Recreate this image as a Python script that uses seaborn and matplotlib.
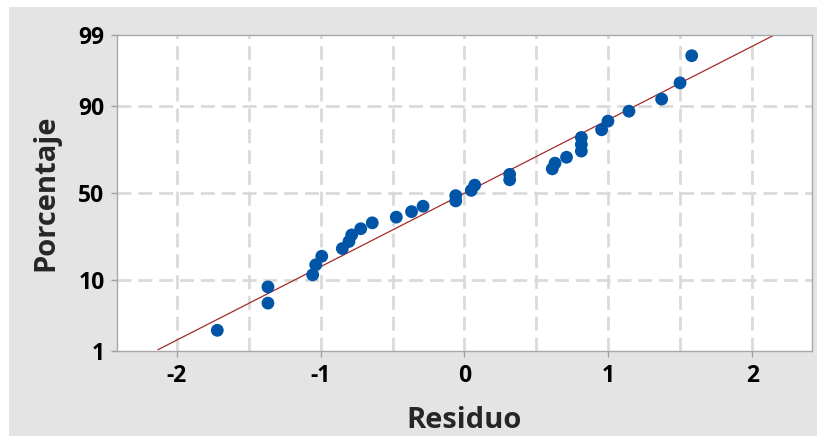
#Librerie
import numpy as np
import pandas as pd
import matplotlib.pyplot as plt
import seaborn as sns
from matplotlib.patches import Rectangle
from statistics import NormalDist

#Residui (ordinati)
residuo = [-1.718, -1.366, -1.366, -1.055, -1.034, -0.992, -0.849, -0.803,
           -0.784, -0.721, -0.641, -0.474, -0.368, -0.288, -0.061, -0.061,
           0.047, 0.071, 0.314, 0.314, 0.610, 0.629, 0.709, 0.812,
           0.812, 0.812, 0.953, 0.997, 1.143, 1.370, 1.498, 1.579]
y_ticks = [1, 10, 50, 90, 99]
x_ticks = [-2, -1, 0, 1, 2]
x_grid = [-2, -1.5, -1, -0.5, 0, 0.5, 1, 1.5, 2]

#posizioni di Minitab (rango mediano)
n = len(residuo)
df = pd.DataFrame({'Residuo': np.sort(residuo)})
df['Porcentaje'] = (np.arange(1, n + 1) - 0.3) / (n + 0.4) * 100

#retta di adattamento normale
mu = df['Residuo'].mean()
sd = df['Residuo'].std()
nd = NormalDist()
p_line = np.array([1.05, 99.0])
df_line = pd.DataFrame({'Porcentaje': p_line,
                        'Residuo': [mu + sd * nd.inv_cdf(p / 100) for p in p_line]})

_ppf = np.vectorize(nd.inv_cdf, otypes=[float])
_cdf = np.vectorize(nd.cdf, otypes=[float])

def fwd(p):
    p = np.clip(np.asarray(p, dtype=float) / 100, 1e-9, 1 - 1e-9)
    return _ppf(p)

def inv(z):
    return _cdf(np.asarray(z, dtype=float)) * 100

sns.set_style('white')
plt.rcParams['font.family'] = ['Open Sans', 'DejaVu Sans']
plt.rcParams['axes.unicode_minus'] = False

fig = plt.figure(figsize=(8.17, 4.36), dpi=100)
fig.patch.set_facecolor('white')
fig.patches.append(Rectangle((9 / 817, 0), 1, 1 - 7 / 436, transform=fig.transFigure,
                             facecolor='#e4e4e4', edgecolor='none', zorder=-10))
ax = fig.add_axes([117 / 817, 1 - 351 / 436, (812 - 117) / 817, (351 - 35) / 436])
ax.set_facecolor('white')
ax.set_yscale('function', functions=(fwd, inv))

#griglia tratteggiata
for g in x_grid:
    ax.axvline(g, color='#dadada', lw=2, ls=(0, (5, 2.5)), zorder=0)
for g in [10, 50, 90]:
    ax.axhline(g, color='#dadada', lw=2, ls=(0, (5, 2.5)), zorder=0)

sns.lineplot(data=df_line, x='Residuo', y='Porcentaje', sort=False, estimator=None,
             color='#a52a2a', lw=0.9, ax=ax, zorder=2)
sns.scatterplot(data=df, x='Residuo', y='Porcentaje', color='#0055a6', s=85,
                edgecolor='none', ax=ax, zorder=3)

ax.set_xlim(-2.415, 2.415)
ax.set_ylim(1, 99)
ax.set_xticks(x_ticks)
ax.set_xticklabels([str(t) for t in x_ticks])
ax.set_yticks(y_ticks)
ax.set_yticklabels([str(t) for t in y_ticks])
ax.yaxis.set_minor_locator(plt.NullLocator())
ax.xaxis.set_minor_locator(plt.NullLocator())
ax.tick_params(axis='both', which='major', length=4, width=1, color='#a0a0a0',
               labelsize=16.5, labelcolor='black', pad=5, left=True, bottom=True)
for s in ax.spines.values():
    s.set_color('#a8a8a8')
    s.set_linewidth(1)
for lab in ax.get_xticklabels() + ax.get_yticklabels():
    lab.set_fontweight('bold')

ax.set_xlabel('Residuo', fontsize=21, fontweight='bold', labelpad=13)
ax.set_ylabel('Porcentaje', fontsize=21, fontweight='bold', labelpad=13)

plt.savefig('out.png', dpi=100, facecolor=fig.get_facecolor())
